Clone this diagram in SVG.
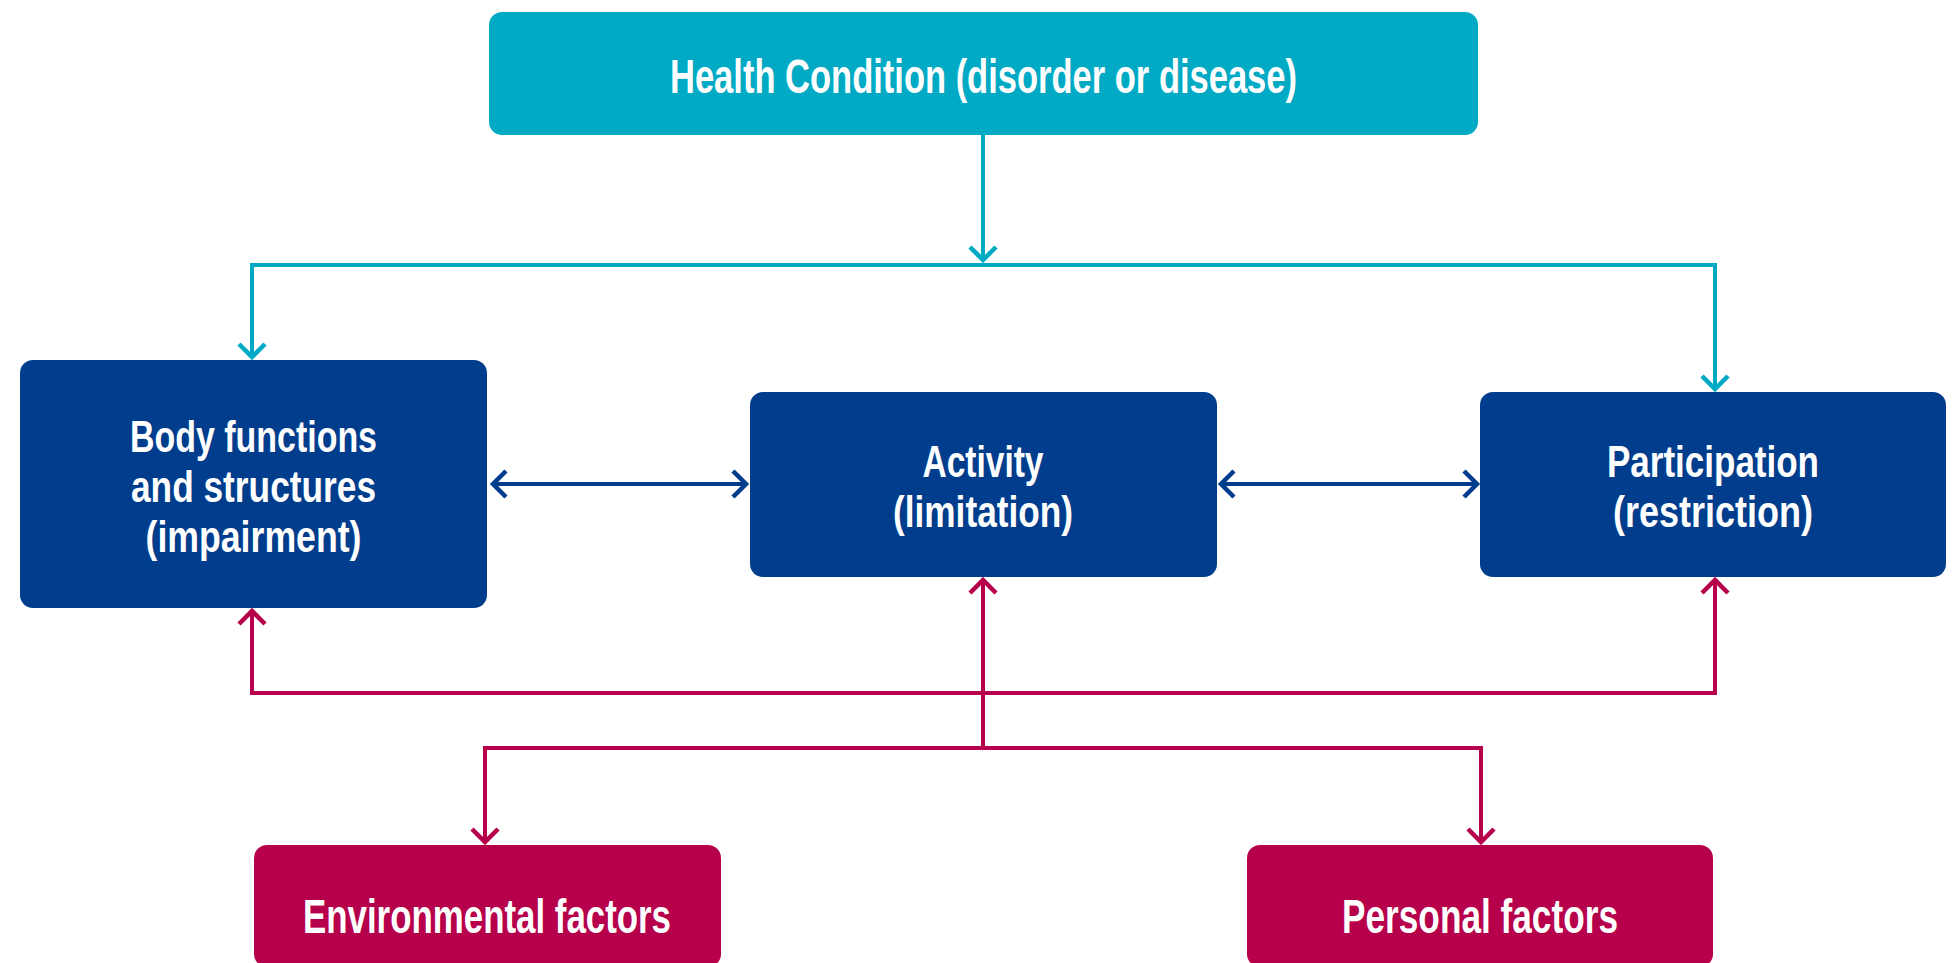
<svg xmlns="http://www.w3.org/2000/svg" width="1956" height="963" viewBox="0 0 1956 963">
  <style>
    .lbl { font-family: "Liberation Sans", Arial, sans-serif; font-weight: bold; font-size: 44px; fill: #ffffff; text-anchor: middle; }
    .big { font-size: 48px; }
    .teal { fill: #00AAC4; }
    .navy { fill: #003D8D; }
    .mag { fill: #B7004B; }
    .c-teal { fill: none; stroke: #00AAC4; stroke-width: 4; }
    .c-navy { fill: none; stroke: #003D8D; stroke-width: 4; }
    .c-mag { fill: none; stroke: #B7004B; stroke-width: 4; }
  </style>
  <defs>
    <marker id="ah-teal" markerUnits="userSpaceOnUse" viewBox="-20 -20 26 40" refX="0" refY="0" markerWidth="26" markerHeight="40" orient="auto-start-reverse">
      <path d="M-13,-13 L0,0 L-13,13" fill="none" stroke="#00AAC4" stroke-width="4.5"/>
    </marker>
    <marker id="ah-navy" markerUnits="userSpaceOnUse" viewBox="-20 -20 26 40" refX="0" refY="0" markerWidth="26" markerHeight="40" orient="auto-start-reverse">
      <path d="M-13,-13 L0,0 L-13,13" fill="none" stroke="#003D8D" stroke-width="4.5"/>
    </marker>
    <marker id="ah-mag" markerUnits="userSpaceOnUse" viewBox="-20 -20 26 40" refX="0" refY="0" markerWidth="26" markerHeight="40" orient="auto-start-reverse">
      <path d="M-13,-13 L0,0 L-13,13" fill="none" stroke="#B7004B" stroke-width="4.5"/>
    </marker>
  </defs>
  <rect width="1956" height="963" fill="#ffffff"/>

  <g id="connectors">
    <path class="c-teal" d="M983,135 V260" marker-end="url(#ah-teal)"/>
    <path class="c-teal" d="M252,357 V265 H1715 V389" marker-start="url(#ah-teal)" marker-end="url(#ah-teal)"/>
    <path class="c-navy" d="M493,484 H746" marker-start="url(#ah-navy)" marker-end="url(#ah-navy)"/>
    <path class="c-navy" d="M1221,484 H1477" marker-start="url(#ah-navy)" marker-end="url(#ah-navy)"/>
    <path class="c-mag" d="M252,611 V693 H1715 V580" marker-start="url(#ah-mag)" marker-end="url(#ah-mag)"/>
    <path class="c-mag" d="M983,580 V748" marker-start="url(#ah-mag)"/>
    <path class="c-mag" d="M485,842 V748 H1481 V842" marker-start="url(#ah-mag)" marker-end="url(#ah-mag)"/>
  </g>

  <g id="health">
    <rect class="teal" x="489" y="12" width="989" height="123" rx="13"/>
    <text class="lbl big" x="983.5" y="93" textLength="627" lengthAdjust="spacingAndGlyphs">Health Condition (disorder or disease)</text>
  </g>

  <g id="body">
    <rect class="navy" x="20" y="360" width="467" height="248" rx="13"/>
    <text class="lbl" x="253.5" y="452" textLength="247" lengthAdjust="spacingAndGlyphs">Body functions</text>
    <text class="lbl" x="253.5" y="502" textLength="245" lengthAdjust="spacingAndGlyphs">and structures</text>
    <text class="lbl" x="253.5" y="552" textLength="216" lengthAdjust="spacingAndGlyphs">(impairment)</text>
  </g>

  <g id="activity">
    <rect class="navy" x="750" y="392" width="467" height="185" rx="13"/>
    <text class="lbl" x="983" y="477" textLength="121" lengthAdjust="spacingAndGlyphs">Activity</text>
    <text class="lbl" x="983" y="527" textLength="180" lengthAdjust="spacingAndGlyphs">(limitation)</text>
  </g>

  <g id="participation">
    <rect class="navy" x="1480" y="392" width="466" height="185" rx="13"/>
    <text class="lbl" x="1713" y="477" textLength="212" lengthAdjust="spacingAndGlyphs">Participation</text>
    <text class="lbl" x="1713" y="527" textLength="200" lengthAdjust="spacingAndGlyphs">(restriction)</text>
  </g>

  <g id="environmental">
    <rect class="mag" x="254" y="845" width="467" height="122" rx="13"/>
    <text class="lbl big" x="487" y="933" textLength="368" lengthAdjust="spacingAndGlyphs">Environmental factors</text>
  </g>

  <g id="personal">
    <rect class="mag" x="1247" y="845" width="466" height="122" rx="13"/>
    <text class="lbl big" x="1480" y="933" textLength="276" lengthAdjust="spacingAndGlyphs">Personal factors</text>
  </g>
</svg>
